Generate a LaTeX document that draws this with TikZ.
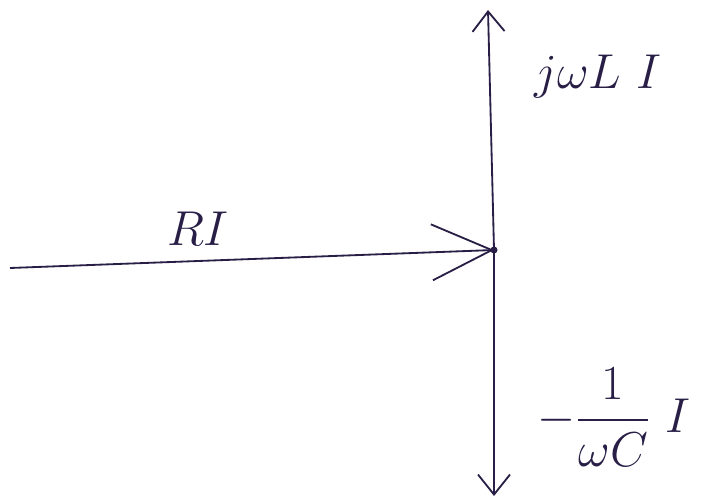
\documentclass[tikz,border=0pt]{standalone}
\usepackage{amsmath}
\usepackage{xcolor}
\usepackage{tikz}
\usetikzlibrary{positioning,arrows.meta}
\definecolor{ink}{RGB}{40,30,70}
\tikzset{
    phasor/.style={draw=ink, line width=1.3pt, -{Straight Barb[length=5mm, width=8mm, line width=1.3pt]}},
    big phasor/.style={draw=ink, line width=1.3pt, -{Straight Barb[length=15mm, width=14mm, line width=1.3pt]}},
    phasor label/.style={text=ink, inner sep=1pt, font=\Huge, scale=1.4}
}

\begin{document}
\begin{tikzpicture}
    \useasboundingbox (0,0) rectangle (17.65,12.525);
    % Points
    \coordinate (o) at (12.35,6.275);
    \coordinate (start) at (0.25,5.825);
    \coordinate (top) at (12.2,12.275);
    \coordinate (bottom) at (12.35,0.125);

    % Phasors
    \draw[big phasor] (start) -- (o);
    \draw[phasor] (o) -- (top);
    \draw[phasor] (o) -- (bottom);
    \fill[ink] (o) circle (2.5pt);

    % Labels
    \node[phasor label] (ri) at (4.95,6.8) {$RI$};
    \node[phasor label] (vl) at (14.95,10.6) {$j\omega L\ I$};
    \node[phasor label] (vc) at (15.35,2.1) {$-\dfrac{1}{\omega C}\ I$};
\end{tikzpicture}
\end{document}
